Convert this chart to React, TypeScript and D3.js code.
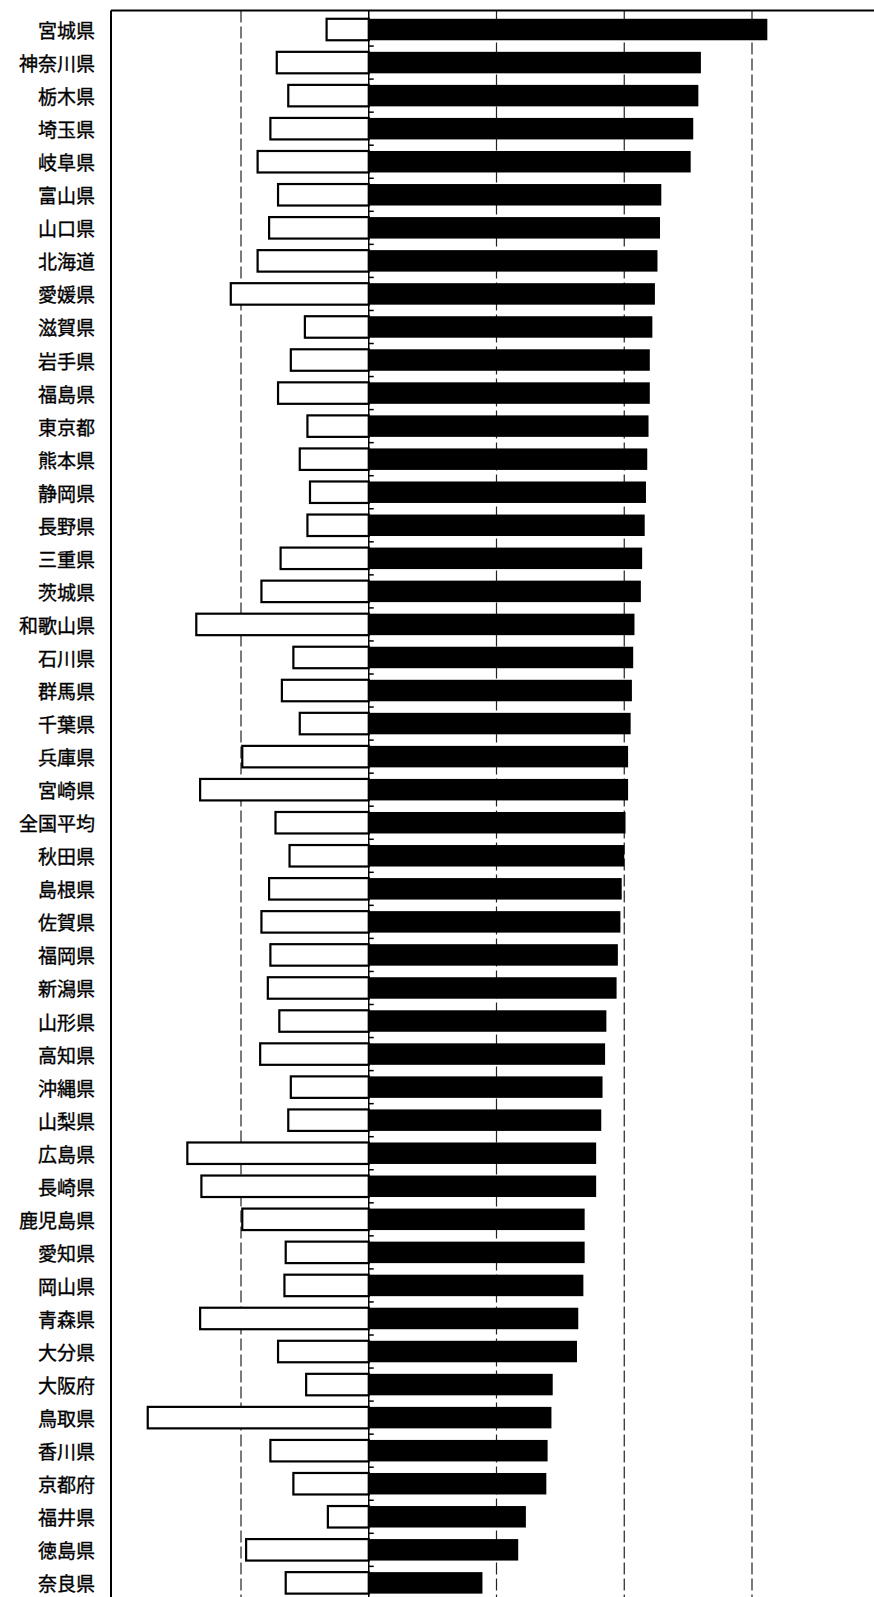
import React from 'react';
import * as d3 from 'd3';

const categories = [
  '宮城県', '神奈川県', '栃木県', '埼玉県', '岐阜県', '富山県', '山口県', '北海道',
  '愛媛県', '滋賀県', '岩手県', '福島県', '東京都', '熊本県', '静岡県', '長野県',
  '三重県', '茨城県', '和歌山県', '石川県', '群馬県', '千葉県', '兵庫県', '宮崎県',
  '全国平均', '秋田県', '島根県', '佐賀県', '福岡県', '新潟県', '山形県', '高知県',
  '沖縄県', '山梨県', '広島県', '長崎県', '鹿児島県', '愛知県', '岡山県', '青森県',
  '大分県', '大阪府', '鳥取県', '香川県', '京都府', '福井県', '徳島県', '奈良県',
];

const negativeValues = [
  -3.3, -7.2, -6.3, -7.7, -8.7, -7.1, -7.8, -8.7,
  -10.8, -5.0, -6.1, -7.1, -4.8, -5.4, -4.6, -4.8,
  -6.9, -8.4, -13.5, -5.9, -6.8, -5.4, -9.9, -13.2,
  -7.3, -6.2, -7.8, -8.4, -7.7, -7.9, -7.0, -8.5,
  -6.1, -6.3, -14.2, -13.1, -9.9, -6.5, -6.6, -13.2,
  -7.1, -4.9, -17.3, -7.7, -5.9, -3.2, -9.6, -6.5,
];

const positiveValues = [
  31.2, 26.0, 25.8, 25.4, 25.2, 22.9, 22.8, 22.6,
  22.4, 22.2, 22.0, 22.0, 21.9, 21.8, 21.7, 21.6,
  21.4, 21.3, 20.8, 20.7, 20.6, 20.5, 20.3, 20.3,
  20.1, 20.0, 19.8, 19.7, 19.5, 19.4, 18.6, 18.5,
  18.3, 18.2, 17.8, 17.8, 16.9, 16.9, 16.8, 16.4,
  16.3, 14.4, 14.3, 14.0, 13.9, 12.3, 11.7, 8.9,
];

const gridTicks = [-10, 10, 20, 30];

const W = 874;
const H = 1597;

export default function App() {
  const x = d3.scaleLinear().domain([-10, 30]).range([241, 752]);
  const step = 33.05;
  const y0 = 13.0;
  const y = d3
    .scaleBand<string>()
    .domain(categories)
    .range([y0, y0 + categories.length * step])
    .paddingInner(0.35)
    .paddingOuter(0.175);
  const bw = y.bandwidth();
  const zero = x(0);
  const frameLeft = 111;
  const frameTop = 10.5;

  return (
    <svg
      width={W}
      height={H}
      viewBox={`0 0 ${W} ${H}`}
      style={{ position: 'absolute', left: 0, top: 0, background: '#fff' }}
    >
      <rect x={0} y={0} width={W} height={H} fill="#fff" />
      {gridTicks.map((t) => (
        <line
          key={t}
          x1={x(t)}
          x2={x(t)}
          y1={frameTop}
          y2={H}
          stroke="#222"
          strokeWidth={1.2}
          strokeDasharray="12,4"
        />
      ))}
      <line x1={frameLeft} x2={frameLeft} y1={frameTop} y2={H} stroke="#000" strokeWidth={2} />
      <line x1={frameLeft} x2={W} y1={frameTop} y2={frameTop} stroke="#000" strokeWidth={2} />
      {categories.map((c, i) => (
        <g key={c}>
          <rect
            x={x(negativeValues[i])}
            y={y(c)}
            width={zero - x(negativeValues[i])}
            height={bw}
            fill="#fff"
            stroke="#000"
            strokeWidth={2.2}
          />
          <rect x={zero} y={y(c)} width={x(positiveValues[i]) - zero} height={bw} fill="#000" />
        </g>
      ))}
      <line x1={zero} x2={zero} y1={frameTop} y2={H} stroke="#000" strokeWidth={1.5} />
      {categories.slice(1).map((c) => {
        const yy = (y(c) as number) - y.step() * 0.175;
        return <line key={'t' + c} x1={zero} x2={zero + 5} y1={yy} y2={yy} stroke="#000" strokeWidth={1.5} />;
      })}
      {categories.map((c) => (
        <text
          key={'l' + c}
          x={95}
          y={(y(c) as number) + bw / 2}
          textAnchor="end"
          dominantBaseline="central"
          fontFamily="'Noto Sans CJK JP', sans-serif"
          fontSize={19}
          fill="#000"
          stroke="#000"
          strokeWidth={0.35}
        >
          {c}
        </text>
      ))}
    </svg>
  );
}
